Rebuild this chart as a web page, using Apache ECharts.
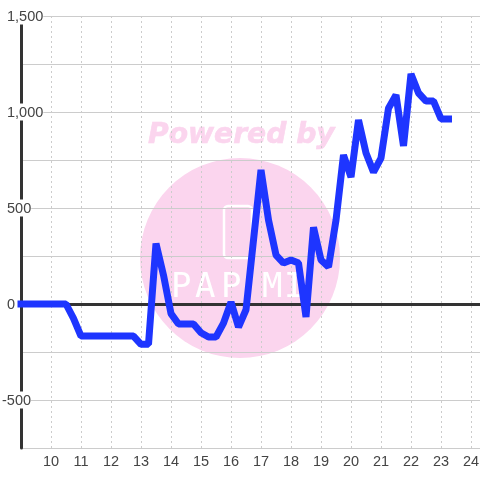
<!DOCTYPE html>
<html><head><meta charset="utf-8">
<style>html,body{margin:0;padding:0;background:#fff}#c{width:480px;height:480px}</style>
<script src="https://cdn.jsdelivr.net/npm/echarts@6/dist/echarts.min.js"></script>
</head><body><div id="c"></div>
<script>
const hours = [9,9.25,9.5,9.75,10,10.25,10.5,10.75,11,11.25,11.5,11.75,12,12.25,12.5,12.75,13,13.25,13.5,13.75,14,14.25,14.5,14.75,15,15.25,15.5,15.75,16,16.25,16.5,16.75,17,17.25,17.5,17.75,18,18.25,18.5,18.75,19,19.25,19.5,19.75,20,20.25,20.5,20.75,21,21.25,21.5,21.75,22,22.25,22.5,22.75,23,23.25];
const values = [0,0,0,0,0,0,0,-75,-167,-167,-167,-167,-167,-167,-167,-167,-210,-210,315,150,-50,-104,-104,-104,-150,-172,-172,-100,10,-120,-30,333,698,437,255,213,229,213,-68,400,229,193,437,776,661,958,786,687,760,1020,1088,823,1198,1099,1057,1057,964,964];
const xTicks = [10,11,12,13,14,15,16,17,18,19,20,21,22,23,24];
const yLabels = {'1500':'1,500','1000':'1,000','500':'500','0':'0','-500':'-500'};
const logoLetters = ['P','A','P','M','I'];
const chart = echarts.init(document.getElementById('c'),null,{renderer:'canvas'});
const pink='#fbd5ee';
const logoX=[171,195,221,262,284];
chart.setOption({
 animation:false,
 grid:{left:21,right:0,top:16,bottom:32,containLabel:false,outerBoundsMode:'none'},
 xAxis:[{type:'value',min:9,max:24.3,interval:1,
  axisLine:{show:true,onZero:false,lineStyle:{color:'#ccc',width:1}},axisTick:{show:false},
  axisLabel:{color:'#444',fontSize:14.5,fontFamily:'Liberation Sans',margin:6,showMaxLabel:false,
   formatter:v=>xTicks.includes(v)?String(v):''},
  splitLine:{show:true,lineStyle:{color:'#ccc',type:[2,3],width:1}}},
  {type:'value',min:9,max:24.3,interval:1,position:'bottom',
  axisLine:{show:true,onZero:true,lineStyle:{color:'#333',width:3}},axisTick:{show:false},axisLabel:{show:false},splitLine:{show:false},z:6}],
 yAxis:{type:'value',min:-750,max:1500,interval:250,
  axisLine:{show:true,onZero:false,lineStyle:{color:'#333',width:3}},axisTick:{show:false},
  axisLabel:{align:'left',margin:19,formatter:v=>{const s=yLabels[String(v)];if(!s)return '';return v<0?'{n|'+s+'}':'{a|'+s+'}';},
   rich:{a:{color:'#444',fontSize:14.5,fontFamily:'Liberation Sans',backgroundColor:'#fff',padding:[2,0,0,5],lineHeight:14},
         n:{color:'#444',fontSize:14.5,fontFamily:'Liberation Sans',backgroundColor:'#fff',padding:[2,0,0,0],lineHeight:14}}},
  splitLine:{show:true,lineStyle:{color:'#ccc',width:1}},z:5},
 graphic:[
  {type:'circle',z:-10,shape:{cx:240,cy:258,r:100},style:{fill:pink}},
  {type:'text',z:-10,x:148,y:122,style:{text:'Powered by',fill:pink,stroke:pink,lineWidth:0.6,font:'italic bold 28.2px "DejaVu Sans"'}},
  {type:'rect',z:-9,shape:{x:224,y:206,width:28,height:52,r:4},style:{fill:'none',stroke:'#fff',lineWidth:2.5}},
  ...logoLetters.map((t,i)=>({type:'text',z:-9,x:logoX[i],y:271,style:{text:t,fill:'#fff',font:'34px "DejaVu Sans Mono"'}}))
 ],
 series:[{type:'line',data:hours.map((h,i)=>[h,values[i]]),showSymbol:false,symbol:'none',clip:false,z:10,
  lineStyle:{color:'#1e35ff',width:7,cap:'square',join:'bevel'}}]
});
</script></body></html>
